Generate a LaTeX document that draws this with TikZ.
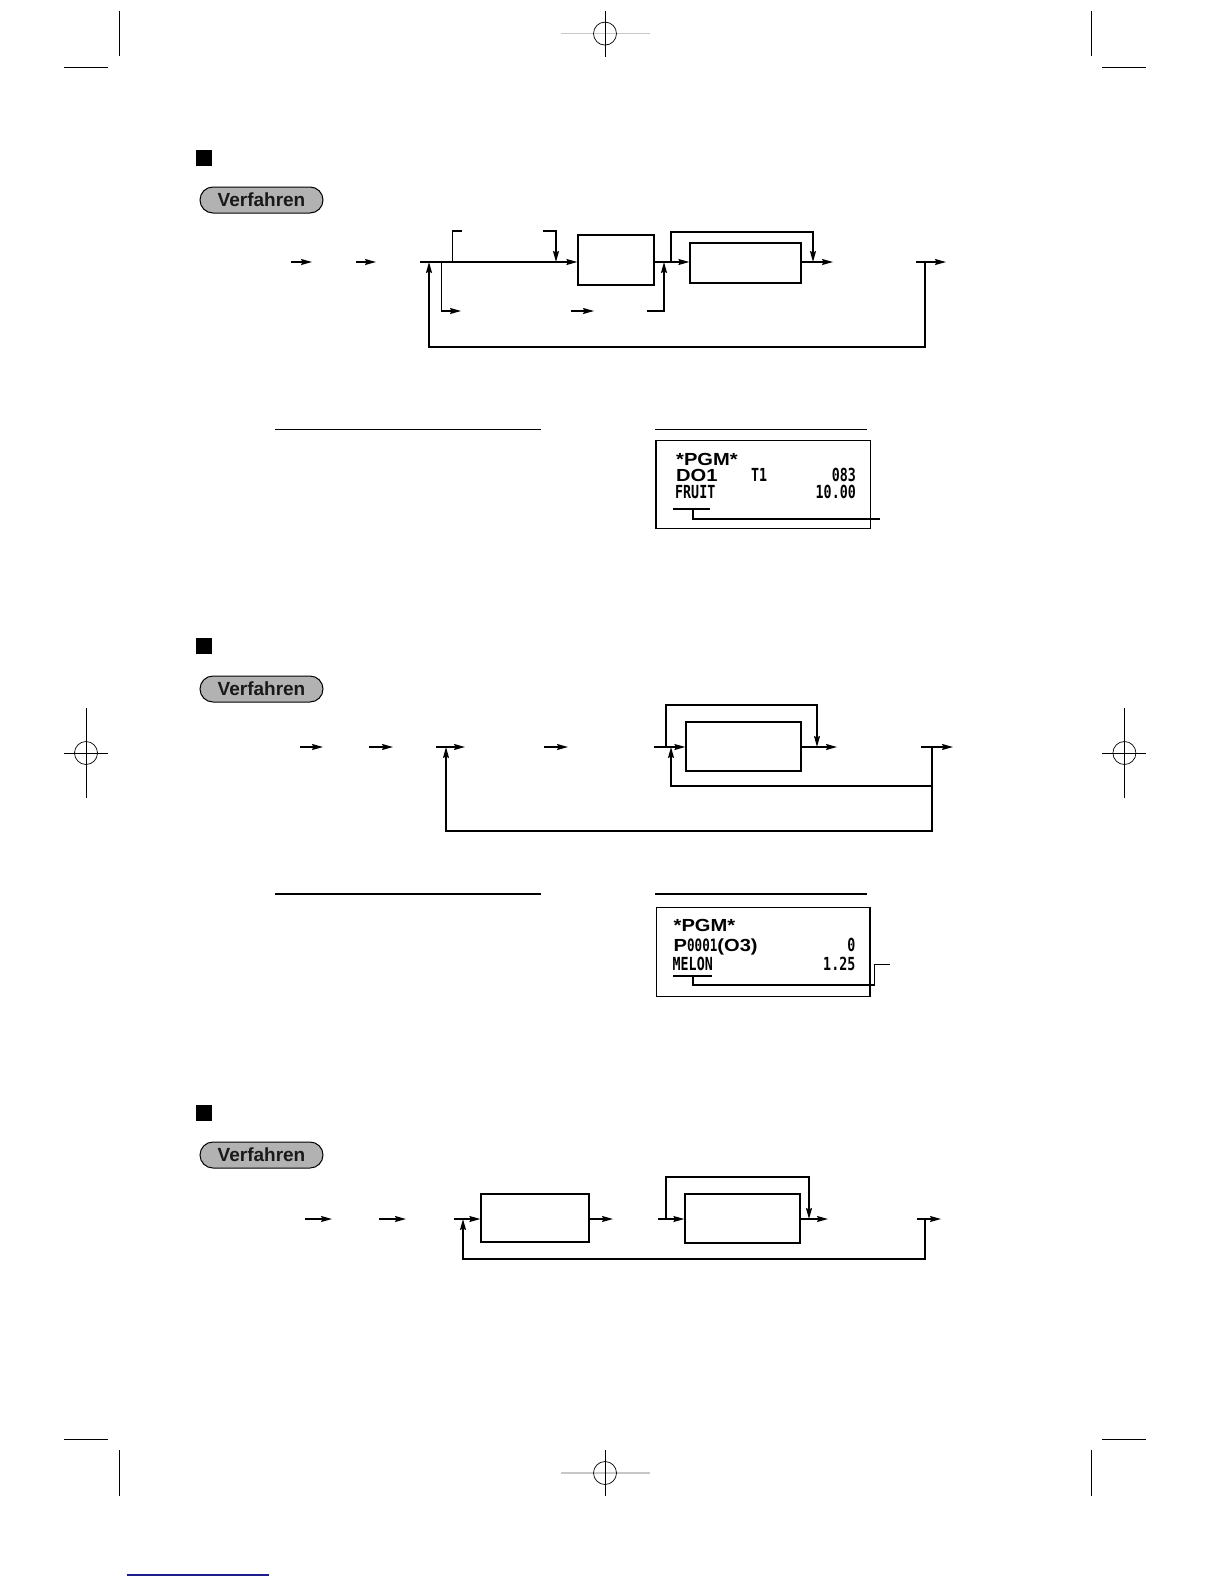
\documentclass[tikz,border=0pt]{standalone}
\usepackage{fontspec}
\setmainfont{Liberation Sans}
\newfontfamily\rcptbold[FakeStretch=1.15]{Liberation Sans}
\newfontfamily\rcptmono[FakeStretch=0.74]{DejaVu Sans Mono}
\usetikzlibrary{arrows.meta}
\definecolor{pillgray}{HTML}{B2B2B2}
\definecolor{cropgray}{HTML}{C8C8C8}
\definecolor{linkblue}{HTML}{1C1C8A}
\tikzset{
  ln/.style={line width=1.3pt},
  arr/.style={ln, -{Stealth[length=11pt,width=6pt,inset=1.5pt]}},
  opbox/.style={draw, line width=1.3pt, inner sep=0pt},
  pill/.style={draw, line width=1pt, fill=pillgray, rounded corners=13pt, minimum width=123pt, minimum height=26pt, inner sep=0pt, font=\fontsize{19}{19}\selectfont\bfseries, text=black!90},
  bullet/.style={fill=black, minimum size=16pt, inner sep=0pt},
  crop/.style={line width=0.7pt},
  cropcross/.style={line width=1.6pt, cropgray},
  rbold/.style={font=\rcptbold\bfseries\fontsize{17.5}{17.5}\selectfont, inner sep=0pt},
  rmono/.style={font=\rcptmono\bfseries\fontsize{18}{18}\selectfont, inner sep=0pt},
  rbox/.style={draw, line width=1.2pt, inner sep=0pt},
}
\begin{document}
\begin{tikzpicture}[x=1pt,y=-1pt]
\useasboundingbox (0,0) rectangle (1224,1584);

% ---------- crop marks ----------
\coordinate (cTLa) at (119.5,11); \coordinate (cTLb) at (119.5,56);
\coordinate (cTLc) at (64,67.3);  \coordinate (cTLd) at (108,67.3);
\draw[crop] (cTLa) -- (cTLb); \draw[crop] (cTLc) -- (cTLd);
\coordinate (cTRa) at (1091.5,11); \coordinate (cTRb) at (1091.5,56);
\coordinate (cTRc) at (1102,67.3);  \coordinate (cTRd) at (1146,67.3);
\draw[crop] (cTRa) -- (cTRb); \draw[crop] (cTRc) -- (cTRd);
\coordinate (cTCa) at (561,33.6); \coordinate (cTCb) at (650,33.6);
\coordinate (cTCc) at (605,11); \coordinate (cTCd) at (605,57);
\coordinate (cTC) at (605,33.6);
\draw[cropcross] (cTCa) -- (cTCb);
\draw[crop] (cTCc) -- (cTCd);
\draw[crop] (cTC) circle[radius=11.5pt];
\coordinate (cLMa) at (86,708); \coordinate (cLMb) at (86,798);
\coordinate (cLMc) at (64,753); \coordinate (cLMd) at (108,753);
\coordinate (cLM) at (86,753);
\draw[crop] (cLMa) -- (cLMb); \draw[crop] (cLMc) -- (cLMd);
\draw[crop] (cLM) circle[radius=11.5pt];
\coordinate (cRMa) at (1124.4,708); \coordinate (cRMb) at (1124.4,798);
\coordinate (cRMc) at (1102,753); \coordinate (cRMd) at (1146,753);
\coordinate (cRM) at (1124.4,753);
\draw[crop] (cRMa) -- (cRMb); \draw[crop] (cRMc) -- (cRMd);
\draw[crop] (cRM) circle[radius=11.5pt];
\coordinate (cBLa) at (119.5,1450); \coordinate (cBLb) at (119.5,1496);
\coordinate (cBLc) at (64,1439.3);  \coordinate (cBLd) at (108,1439.3);
\draw[crop] (cBLa) -- (cBLb); \draw[crop] (cBLc) -- (cBLd);
\coordinate (cBRa) at (1091.5,1450); \coordinate (cBRb) at (1091.5,1496);
\coordinate (cBRc) at (1102,1439.3);  \coordinate (cBRd) at (1146,1439.3);
\draw[crop] (cBRa) -- (cBRb); \draw[crop] (cBRc) -- (cBRd);
\coordinate (cBCa) at (561,1473); \coordinate (cBCb) at (650,1473);
\coordinate (cBCc) at (605,1450); \coordinate (cBCd) at (605,1496);
\coordinate (cBC) at (605,1473);
\draw[cropcross] (cBCa) -- (cBCb);
\draw[crop] (cBCc) -- (cBCd);
\draw[crop] (cBC) circle[radius=11.5pt];
\coordinate (blA) at (126.6,1575); \coordinate (blB) at (269,1575);
\draw[line width=1.5pt, linkblue] (blA) -- (blB);

% ---------- section 1 ----------
\node[bullet] (sq1) at (204,158) {};
\node[pill] (v1) at (261.5,200) {Verfahren};
\node[opbox, minimum width=76pt, minimum height=50pt] (b1a) at (616,260) {};
\node[opbox, minimum width=111pt, minimum height=40pt] (b1b) at (745.5,263) {};
\coordinate (r1a) at (291,262); \coordinate (r1b) at (312,262);
\draw[arr] (r1a) -- (r1b);
\coordinate (r1c) at (356,262); \coordinate (r1d) at (376,262);
\draw[arr] (r1c) -- (r1d);
\coordinate (r1s) at (420,262);
\draw[arr] (r1s) -- (r1s -| b1a.west);
\coordinate (u1a) at (452.7,262); \coordinate (u1b) at (462,231);
\draw[ln] (u1a) |- (u1b);
\coordinate (u1c) at (543,231); \coordinate (u1d) at (556,262);
\draw[arr] (u1c) -| (u1d);
\coordinate (l1a) at (441.3,262); \coordinate (l1b) at (461,311);
\draw[arr] (l1a) |- (l1b);
\coordinate (l1c) at (571,311); \coordinate (l1d) at (594,311);
\draw[arr] (l1c) -- (l1d);
\coordinate (l1e) at (647,311); \coordinate (l1f) at (664,262);
\draw[arr] (l1e) -| (l1f);
\draw[arr] (b1a.east |- r1s) -- (b1b.west |- r1s);
\coordinate (k1a) at (671,262); \coordinate (k1b) at (813,262);
\draw[arr] (k1a) -- ++(0,-30) -| (k1b);
\coordinate (o1a) at (833,262);
\draw[arr] (b1b.east |- r1s) -- (o1a);
\coordinate (e1a) at (916,262); \coordinate (e1b) at (946,262);
\draw[arr] (e1a) -- (e1b);
\coordinate (f1a) at (925,262); \coordinate (f1b) at (429,262);
\draw[arr] (f1a) -- ++(0,85) -| (f1b);

% receipt 1
\coordinate (h1a) at (275,429.3); \coordinate (h1b) at (541,429.3);
\coordinate (h1c) at (655.4,429.3); \coordinate (h1d) at (867,429.3);
\draw[ln] (h1a) -- (h1b); \draw[ln] (h1c) -- (h1d);
\node[rbox, minimum width=214.5pt, minimum height=88pt] (rc1) at (763.2,484.2) {};
\node[rbold, anchor=base west] (t1a) at (676,465) {*PGM*};
\node[rbold, anchor=base west] (t1b) at (676,481) {DO1};
\node[rmono, anchor=base west] (t1c) at (751,481) {T1};
\node[rmono, anchor=base east] (t1d) at (856,481) {083};
\node[rmono, anchor=base west] (t1e) at (675,498.5) {FRUIT};
\node[rmono, anchor=base east] (t1f) at (856,498.5) {10.00};
\coordinate (ul1a) at (673,509); \coordinate (ul1b) at (710,509);
\draw[ln] (ul1a) -- (ul1b);
\coordinate (ld1a) at (693,509); \coordinate (ld1b) at (880,519);
\draw[ln] (ld1a) |- (ld1b);

% ---------- section 2 ----------
\node[bullet] (sq2) at (204,646) {};
\node[pill] (v2) at (261.5,689) {Verfahren};
\node[opbox, minimum width=115pt, minimum height=49pt] (b2) at (743.5,746.5) {};
\coordinate (r2a) at (300,747); \coordinate (r2b) at (323,747);
\draw[arr] (r2a) -- (r2b);
\coordinate (r2c) at (369,747); \coordinate (r2d) at (393,747);
\draw[arr] (r2c) -- (r2d);
\coordinate (r2e) at (436,747); \coordinate (r2f) at (465,747);
\draw[arr] (r2e) -- (r2f);
\coordinate (r2g) at (544,747); \coordinate (r2h) at (568,747);
\draw[arr] (r2g) -- (r2h);
\coordinate (r2s) at (654,747);
\draw[arr] (r2s) -- (r2s -| b2.west);
\coordinate (k2a) at (666,747); \coordinate (k2b) at (817,747);
\draw[arr] (k2a) -- ++(0,-42) -| (k2b);
\coordinate (i2a) at (932,786); \coordinate (i2b) at (671,747);
\draw[arr] (i2a) -| (i2b);
\coordinate (o2a) at (837,747);
\draw[arr] (b2.east |- r2s) -- (o2a);
\coordinate (e2a) at (921,747); \coordinate (e2b) at (953,747);
\draw[arr] (e2a) -- (e2b);
\coordinate (f2a) at (932,747); \coordinate (f2b) at (446,747);
\draw[arr] (f2a) -- ++(0,84) -| (f2b);

% receipt 2
\coordinate (h2a) at (275,894); \coordinate (h2b) at (541,894);
\coordinate (h2c) at (655.4,894); \coordinate (h2d) at (867,894);
\draw[ln] (h2a) -- (h2b); \draw[ln] (h2c) -- (h2d);
\node[rbox, minimum width=213.5pt, minimum height=89.5pt] (rc2) at (763.3,952) {};
\node[rbold, anchor=base west] (t2a) at (673.5,931.7) {*PGM*};
\node[rbold, anchor=base west] (t2b) at (673.5,951.7) {P{\rcptmono\fontsize{17}{17}\selectfont 0001}(O3)};
\node[rmono, anchor=base east] (t2c) at (855.5,951.7) {0};
\node[rmono, anchor=base west] (t2d) at (672.5,970.5) {MELON};
\node[rmono, anchor=base east] (t2e) at (855.5,970.5) {1.25};
\coordinate (ul2a) at (673,976); \coordinate (ul2b) at (712,976);
\draw[ln] (ul2a) -- (ul2b);
\coordinate (ld2a) at (693,976); \coordinate (ld2b) at (874.7,964.3); \coordinate (ld2c) at (890,964.3);
\draw[ln] (ld2a) -- ++(0,9) -| (ld2b) -- (ld2c);

% ---------- section 3 ----------
\node[bullet] (sq3) at (204,1113) {};
\node[pill] (v3) at (261.5,1155) {Verfahren};
\node[opbox, minimum width=108pt, minimum height=48pt] (b3a) at (535,1218) {};
\node[opbox, minimum width=115pt, minimum height=49pt] (b3b) at (742.5,1218.5) {};
\coordinate (r3a) at (305,1219); \coordinate (r3b) at (332,1219);
\draw[arr] (r3a) -- (r3b);
\coordinate (r3c) at (379,1219); \coordinate (r3d) at (406,1219);
\draw[arr] (r3c) -- (r3d);
\coordinate (r3s) at (454,1219);
\draw[arr] (r3s) -- (r3s -| b3a.west);
\coordinate (o3a) at (613,1219);
\draw[arr] (b3a.east |- r3s) -- (o3a);
\coordinate (r3t) at (658,1219);
\draw[arr] (r3t) -- (r3t -| b3b.west);
\coordinate (k3a) at (666,1219); \coordinate (k3b) at (809,1219);
\draw[arr] (k3a) -- ++(0,-42) -| (k3b);
\coordinate (o3b) at (828,1219);
\draw[arr] (b3b.east |- r3s) -- (o3b);
\coordinate (e3a) at (917,1219); \coordinate (e3b) at (941,1219);
\draw[arr] (e3a) -- (e3b);
\coordinate (f3a) at (925,1219); \coordinate (f3b) at (463,1219);
\draw[arr] (f3a) -- ++(0,40) -| (f3b);
\end{tikzpicture}
\end{document}
